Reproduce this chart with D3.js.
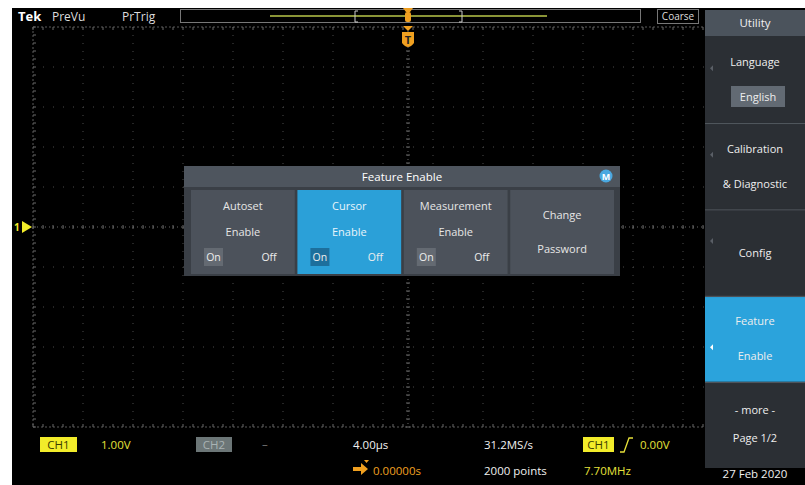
<!DOCTYPE html>
<html><head><meta charset="utf-8">
<script src="https://cdn.jsdelivr.net/npm/d3@7"></script>
<style>
html,body{margin:0;padding:0;background:#fff;}
svg{display:block;font-family:"Open Sans","Noto Sans",sans-serif;}
</style></head><body>
<script>
// ---- data ----
const hDivisions = 15;
const vDivisions = 10;
const minorPerDiv = 5;
const topLabels = ["PreVu", "PrTrig"];
const menuTitle = "Utility";
const menuItems = [
  {lines: ["Language"], sub: "English", active: false},
  {lines: ["Calibration", "& Diagnostic"], sub: null, active: false},
  {lines: ["Config"], sub: null, active: false},
  {lines: ["Feature", "Enable"], sub: null, active: true},
  {lines: ["- more -", "Page 1/2"], sub: null, active: false}
];
const dialogTitle = "Feature Enable";
const dialogButtons = [
  {lines: ["Autoset", "Enable"], toggle: true, active: false},
  {lines: ["Cursor", "Enable"], toggle: true, active: true},
  {lines: ["Measurement", "Enable"], toggle: true, active: false},
  {lines: ["Change", "Password"], toggle: false, active: false}
];
const ch1Scale = "1.00V";
const ch2Scale = "\u2013";
const timeDiv = "4.00\u00b5s";
const trigPos = "0.00000s";
const sampleRate = "31.2MS/s";
const recordLen = "2000 points";
const trigLevel = "0.00V";
const trigFreq = "7.70MHz";
const dateLabel = "27 Feb 2020";

// ---- layout ----
const W = 805, H = 485;
const svg = d3.select("body").append("svg").attr("width", W).attr("height", H);
svg.append("rect").attr("x", 12).attr("y", 8).attr("width", W - 12).attr("height", H - 8).attr("fill", "#000");

const x = d3.scaleLinear().domain([0, hDivisions]).range([33, 783]);
const y = d3.scaleLinear().domain([0, vDivisions]).range([27, 427]);

const grid = svg.append("g");
grid.selectAll(".vl").data(d3.range(0, hDivisions + 1)).join("line")
  .attr("x1", d => x(d)).attr("x2", d => x(d)).attr("y1", y(0)).attr("y2", y(vDivisions))
  .attr("stroke", d => (d === 0) ? "#5a5a5a" : "#4a4a4a").attr("stroke-width", 1)
  .attr("stroke-dasharray", d => (d === 0) ? "2,2" : "1,7");
grid.selectAll(".hl").data(d3.range(0, vDivisions + 1)).join("line")
  .attr("x1", x(0)).attr("x2", x(hDivisions)).attr("y1", d => y(d)).attr("y2", d => y(d))
  .attr("stroke", d => (d === 0 || d === vDivisions) ? "#5a5a5a" : "#4a4a4a").attr("stroke-width", 1)
  .attr("stroke-dasharray", d => (d === 0 || d === vDivisions) ? "2,2" : "1,9");
const minorX = d3.range(0, hDivisions * minorPerDiv + 1).map(i => i / minorPerDiv);
const minorY = d3.range(0, vDivisions * minorPerDiv + 1).map(i => i / minorPerDiv);
[[0, 1], [vDivisions, -1], [vDivisions / 2, 0]].forEach(([row, dir]) => {
  grid.append("g").selectAll("line").data(minorX).join("line")
    .attr("x1", d => x(d)).attr("x2", d => x(d))
    .attr("y1", d => y(row) - (dir === 0 ? 2 : 0))
    .attr("y2", d => y(row) + (dir === 0 ? 2 : dir * 3))
    .attr("stroke", "#6a6a6a");
});
[[0, 1], [hDivisions / 2, 0]].forEach(([col, dir]) => {
  grid.append("g").selectAll("line").data(minorY).join("line")
    .attr("y1", d => y(d)).attr("y2", d => y(d))
    .attr("x1", d => x(col) - (dir === 0 ? 2 : 0))
    .attr("x2", d => x(col) + (dir === 0 ? 2 : dir * 3))
    .attr("stroke", "#6a6a6a");
});
grid.append("line").attr("x1", x(0)).attr("x2", x(hDivisions)).attr("y1", y(vDivisions / 2)).attr("y2", y(vDivisions / 2))
  .attr("stroke", "#666").attr("stroke-dasharray", "1,3");
grid.append("line").attr("y1", y(0)).attr("y2", y(vDivisions)).attr("x1", x(hDivisions / 2)).attr("x2", x(hDivisions / 2))
  .attr("stroke", "#666").attr("stroke-dasharray", "1,3");

// ---- top bar ----
svg.append("rect").attr("x", 12).attr("y", 8).attr("width", 693).attr("height", 18).attr("fill", "#000");
svg.append("text").attr("x", 18).attr("y", 21).attr("fill", "#fff").attr("font-size", 13).attr("font-weight", "bold").text("Tek");
svg.selectAll(".tl").data(topLabels).join("text").attr("x", (d, i) => [52, 122][i]).attr("y", 21)
  .attr("fill", "#ddd").attr("font-size", 12).text(d => d);
svg.append("rect").attr("x", 180.5).attr("y", 9.5).attr("width", 460).attr("height", 13)
  .attr("fill", "none").attr("stroke", "#777");
svg.append("line").attr("x1", 270).attr("x2", 547).attr("y1", 16).attr("y2", 16).attr("stroke", "#b9c64a").attr("stroke-width", 1.5);
[[355, 1], [462, -1]].forEach(([bx, d]) => {
  svg.append("path").attr("d", `M${bx + d * 3},11 H${bx} V22 H${bx + d * 3}`).attr("fill", "none").attr("stroke", "#ccc");
});
const tx = x(hDivisions / 2);
svg.append("path").attr("d", `M${tx - 5},8 H${tx + 5} L${tx + 2},12 H${tx - 2} Z`).attr("fill", "#f0a020");
svg.append("rect").attr("x", tx - 3).attr("y", 12).attr("width", 6).attr("height", 10).attr("rx", 2).attr("fill", "#f0a020");
svg.append("path").attr("d", `M${tx - 5},26 H${tx + 5} L${tx},31 Z`).attr("fill", "#f0a020");
svg.append("path").attr("d", `M${tx - 6},32 H${tx + 6} V43 Q${tx},51 ${tx - 6},43 Z`).attr("fill", "#f0a020");
svg.append("text").attr("x", tx).attr("y", 44).attr("text-anchor", "middle").attr("font-size", 11).attr("font-weight", "bold").attr("fill", "#222").text("T");

svg.append("rect").attr("x", 657.5).attr("y", 9.5).attr("width", 41).attr("height", 14).attr("fill", "#000").attr("stroke", "#777");
svg.append("text").attr("x", 678).attr("y", 20).attr("text-anchor", "middle").attr("fill", "#ddd").attr("font-size", 10).text("Coarse");

const gy = y(vDivisions / 2);
svg.append("path").attr("d", `M22,${gy - 6} L32,${gy} L22,${gy + 6} Z`).attr("fill", "#f2ec2a");
svg.append("text").attr("x", 14).attr("y", gy + 4).attr("fill", "#f2ec2a").attr("font-size", 10).attr("font-weight", "bold").text("1");

// ---- dialog ----
const dlg = svg.append("g");
const dX = 184, dY = 166, dW = 436, dH = 110;
dlg.append("rect").attr("x", dX).attr("y", dY).attr("width", dW).attr("height", dH).attr("fill", "#3a3f46");
dlg.append("rect").attr("x", dX).attr("y", dY).attr("width", dW).attr("height", 21).attr("fill", "#4e555e");
dlg.append("text").attr("x", dX + dW / 2).attr("y", dY + 15).attr("text-anchor", "middle").attr("fill", "#fff").attr("font-size", 11.5).text(dialogTitle);
dlg.append("circle").attr("cx", 606).attr("cy", dY + 10).attr("r", 6.5).attr("fill", "#4aa8e0");
dlg.append("text").attr("x", 606).attr("y", dY + 14).attr("text-anchor", "middle").attr("fill", "#fff").attr("font-size", 9).attr("font-weight", "bold").text("M");
const bx = d3.scaleBand().domain(d3.range(dialogButtons.length)).range([191, 614]).paddingInner(0.025);
const btn = dlg.selectAll(".btn").data(dialogButtons).join("g").attr("transform", (d, i) => `translate(${bx(i)},190)`);
btn.append("rect").attr("width", bx.bandwidth()).attr("height", 84).attr("fill", d => d.active ? "#2ba0d8" : "#4c525b");
btn.each(function (d) {
  const g = d3.select(this), w = bx.bandwidth();
  if (d.toggle) {
    g.selectAll(".t").data(d.lines).join("text").attr("x", w / 2).attr("y", (e, j) => 20 + j * 26)
      .attr("text-anchor", "middle").attr("fill", d.active ? "#e8f4fb" : "#e6e6e6").attr("font-size", 11).text(e => e);
    g.append("rect").attr("x", 13).attr("y", 58).attr("width", 19).attr("height", 18)
      .attr("fill", d.active ? "#1d6f9c" : "#646a72");
    g.append("text").attr("x", 22.5).attr("y", 71).attr("text-anchor", "middle").attr("fill", "#eee").attr("font-size", 10.5).text("On");
    g.append("text").attr("x", 78).attr("y", 71).attr("text-anchor", "middle").attr("fill", "#eee").attr("font-size", 10.5).text("Off");
  } else {
    g.selectAll(".t").data(d.lines).join("text").attr("x", w / 2).attr("y", (e, j) => 29 + j * 34)
      .attr("text-anchor", "middle").attr("fill", "#e6e6e6").attr("font-size", 11).text(e => e);
  }
});

// ---- right menu ----
const menu = svg.append("g");
menu.append("rect").attr("x", 705).attr("y", 10).attr("width", 100).attr("height", 458).attr("fill", "#2b2f34");
menu.append("rect").attr("x", 705).attr("y", 10).attr("width", 100).attr("height", 26).attr("fill", "#4b535c");
menu.append("text").attr("x", 755).attr("y", 27).attr("text-anchor", "middle").attr("fill", "#f0f0f0").attr("font-size", 11.5).text(menuTitle);
const my = d3.scaleBand().domain(d3.range(menuItems.length)).range([38, 468]).paddingInner(0.02);
const mi = menu.selectAll(".mi").data(menuItems).join("g").attr("transform", (d, i) => `translate(705,${my(i)})`);
mi.append("rect").attr("width", 100).attr("height", my.bandwidth()).attr("fill", d => d.active ? "#2ba3dc" : "#2b2f34");
mi.each(function (d, i) {
  const g = d3.select(this), h = my.bandwidth();
  const last = i === menuItems.length - 1;
  if (!last) g.append("line").attr("x1", 0).attr("x2", 100).attr("y1", h + 1).attr("y2", h + 1).attr("stroke", "#555b62");
  if (!last) g.append("path").attr("d", `M8,${h / 2 - 15} l-3,3 l3,3 Z`)
    .attr("fill", d.active ? "#fff" : "#5a5f66").attr("transform", d.active ? `translate(0,${20})` : null);
  if (d.sub) {
    g.append("text").attr("x", 50).attr("y", 28).attr("text-anchor", "middle").attr("fill", "#eee").attr("font-size", 11).text(d.lines[0]);
    g.append("rect").attr("x", 26).attr("y", 48).attr("width", 54).attr("height", 21).attr("fill", "#626a73");
    g.append("text").attr("x", 53).attr("y", 63).attr("text-anchor", "middle").attr("fill", "#eee").attr("font-size", 11).text(d.sub);
  } else if (d.lines.length === 2) {
    const y0 = last ? 31 : h / 2 - 14;
    const gap = last ? 28 : 35;
    g.selectAll(".t").data(d.lines).join("text").attr("x", 50).attr("y", (e, j) => y0 + j * gap)
      .attr("text-anchor", "middle").attr("fill", "#eee").attr("font-size", 11).text(e => e);
  } else {
    g.append("text").attr("x", 50).attr("y", h / 2 + 4).attr("text-anchor", "middle").attr("fill", "#eee").attr("font-size", 11).text(d.lines[0]);
  }
});
menu.append("text").attr("x", 755).attr("y", 478).attr("text-anchor", "middle").attr("fill", "#f0f0f0").attr("font-size", 11.5).text(dateLabel);

// ---- bottom status ----
const st = svg.append("g").attr("font-size", 11.5);
st.append("rect").attr("x", 40).attr("y", 437).attr("width", 37).attr("height", 15).attr("fill", "#f2ec2a");
st.append("text").attr("x", 58.5).attr("y", 449).attr("text-anchor", "middle").attr("fill", "#3a3a00").text("CH1");
st.append("text").attr("x", 101).attr("y", 449).attr("fill", "#e6e03a").text(ch1Scale);
st.append("rect").attr("x", 196).attr("y", 437).attr("width", 36).attr("height", 15).attr("fill", "#6c7677");
st.append("text").attr("x", 214).attr("y", 449).attr("text-anchor", "middle").attr("fill", "#a9b3b4").text("CH2");
st.append("text").attr("x", 262).attr("y", 448).attr("fill", "#777").text(ch2Scale);
st.append("text").attr("x", 353).attr("y", 449).attr("fill", "#f0f0f0").text(timeDiv);
st.append("path").attr("d", "M353,467 h8 v-4 l7,6 l-7,6 v-4 h-8 Z").attr("fill", "#f0a020");
st.append("path").attr("d", "M364,460 h5 l-2.5,3 Z").attr("fill", "#f0a020");
st.append("text").attr("x", 373).attr("y", 475).attr("fill", "#f0a020").text(trigPos);
st.append("text").attr("x", 484).attr("y", 449).attr("fill", "#f0f0f0").text(sampleRate);
st.append("text").attr("x", 484).attr("y", 475).attr("fill", "#f0f0f0").text(recordLen);
st.append("rect").attr("x", 583).attr("y", 437).attr("width", 31).attr("height", 15).attr("fill", "#f2ec2a");
st.append("text").attr("x", 598.5).attr("y", 449).attr("text-anchor", "middle").attr("fill", "#3a3a00").text("CH1");
st.append("path").attr("d", "M620,452 h4 l5,-14 h4").attr("fill", "none").attr("stroke", "#e6e03a").attr("stroke-width", 1.3);
st.append("text").attr("x", 640).attr("y", 449).attr("fill", "#e6e03a").text(trigLevel);
st.append("text").attr("x", 584).attr("y", 475).attr("fill", "#e6e03a").text(trigFreq);
</script>
</body></html>
